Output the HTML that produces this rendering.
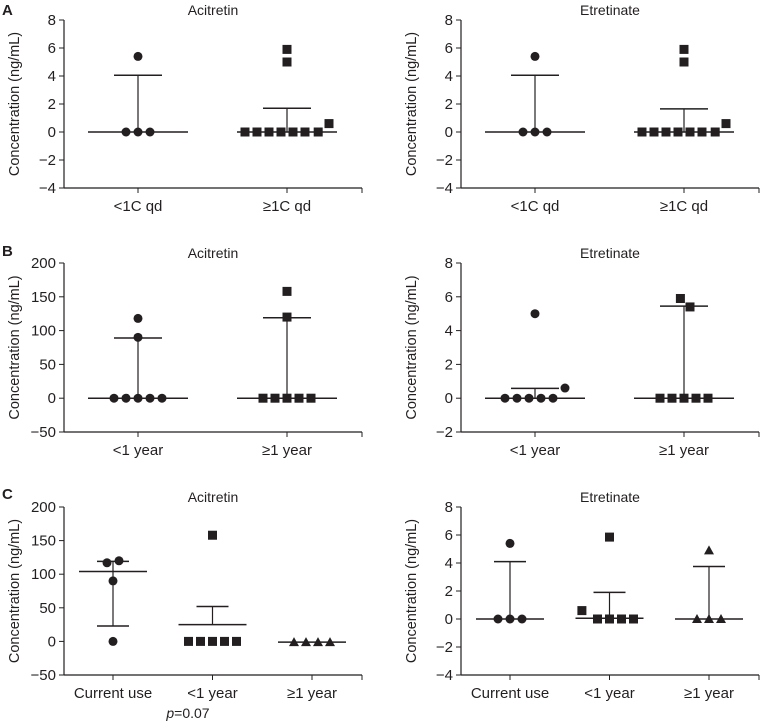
<!DOCTYPE html>
<html><head><meta charset="utf-8"><style>
body{margin:0;background:#fff;width:760px;height:723px;overflow:hidden}
svg text{font-family:"Liberation Sans",sans-serif;fill:#231f20}
</style></head><body>
<svg id="s" width="760" height="723" xmlns="http://www.w3.org/2000/svg">
<text x="2" y="15" font-size="15" font-weight="bold">A</text>
<text x="2" y="256" font-size="15" font-weight="bold">B</text>
<text x="2" y="499" font-size="15" font-weight="bold">C</text>
<text x="188" y="718" font-size="14" text-anchor="middle"><tspan font-style="italic">p</tspan>=0.07</text>
</svg>
<script>
// Panel A
const catsA=["<1C qd","≥1C qd"];
const aAciVals=[[0,0,0,5.4],[0,0,0,0,0,0,0,0.6,5.0,5.9]];
const aAciSlots=[[-1,0,1,0],[-3.5,-2.5,-1.5,-0.5,0.5,1.5,2.6,3.5,0,0]];
const aAciMed=[0,0],aAciLo=[0,0],aAciHi=[4.05,1.7];
const aEtrVals=[[0,0,0,5.4],[0,0,0,0,0,0,0,0.6,5.0,5.9]];
const aEtrMed=[0,0],aEtrLo=[0,0],aEtrHi=[4.05,1.65];
// Panel B
const catsB=["<1 year","≥1 year"];
const bAciVals=[[0,0,0,0,0,90,118],[0,0,0,0,0,120,158]];
const bAciSlots=[[-2,-1,0,1,2,0,0],[-2,-1,0,1,2,0,0]];
const bAciMed=[0,0],bAciLo=[0,0],bAciHi=[89,119];
const bEtrVals=[[0,0,0,0,0,5.0,0.6],[0,0,0,0,0,5.9,5.4]];
const bEtrSlots=[[-2.5,-1.5,-0.5,0.5,1.5,0,2.5],[-2,-1,0,1,2,-0.3,0.5]];
const bEtrMed=[0,0],bEtrLo=[0,0],bEtrHi=[0.58,5.45];
// Panel C
const catsC=["Current use","<1 year","≥1 year"];
const cAciVals=[[117,120,90,0],[0,0,0,0,0,158],[-1,-1,-1,-1]];
const cAciSlots=[[-0.5,0.5,0,0],[-2,-1,0,1,2,0],[-1.5,-0.5,0.5,1.5]];
const cAciMed=[104,25,-1],cAciLo=[23,25,-1],cAciHi=[119,52,-1];
const cEtrVals=[[0,0,0,5.4],[0.6,0,0,0,0,5.85],[0,0,0,4.9]];
const cEtrSlots=[[-1,0,1,0],[-2.3,-1,0,1,2,0],[-1,0,1,0]];
const cEtrMed=[0,0.05,0],cEtrLo=[0,0.05,0],cEtrHi=[4.1,1.9,3.75];
const shapes2=["circle","square"],shapes3=["circle","square","triangle"];

const svg=document.getElementById('s');
const NS="http://www.w3.org/2000/svg";
function mk(t,a){const e=document.createElementNS(NS,t);for(const k in a)e.setAttribute(k,a[k]);svg.appendChild(e);return e;}
function panel(o){
 const ys=v=>o.yb-(v-o.ymin)/(o.ymax-o.ymin)*(o.yb-o.yt);
 const n=o.cats.length;
 const xs=i=>n===2?o.ax+74+i*149:o.ax+49+i*99.5;
 const L=mk('line',{x1:o.ax,y1:o.yt,x2:o.ax,y2:o.yb,stroke:'#231f20','stroke-width':1.2});
 
 
 const X=mk('line',{x1:o.ax,y1:o.yb,x2:o.ax+298,y2:o.yb,stroke:'#231f20','stroke-width':1.2});
 
 
 mk('line',{x1:o.ax+298,y1:o.yb,x2:o.ax+298,y2:o.yb+5,stroke:'#231f20'});
 for(let v=o.ymin;v<=o.ymax+1e-9;v+=o.step){
  const y=ys(v);
  mk('line',{x1:o.ax-5,y1:y,x2:o.ax,y2:y,stroke:'#231f20'});
  const t=mk('text',{x:o.ax-8,y:y+5,'font-size':15,'text-anchor':'end'});
  t.textContent=v<0?'−'+(-v):String(v);
  
  
 }
 o.cats.forEach((c,i)=>{
  const x=xs(i);
  mk('line',{x1:x,y1:o.yb,x2:x,y2:o.yb+5,stroke:'#231f20'});
  const t=mk('text',{x:x,y:o.yb+23,'font-size':15,'text-anchor':'middle'});
  t.textContent=c;
  
  
 });
 const ti=mk('text',{x:o.ax+149,y:o.yt-5,'font-size':14,'text-anchor':'middle'});
 ti.textContent=o.title;
 
 
 const yl=mk('text',{x:0,y:0,'font-size':14.5,'text-anchor':'middle',transform:`translate(${o.ax-45},${(o.yt+o.yb)/2}) rotate(-90)`});
 yl.textContent='Concentration (ng/mL)';
 
 
 const mh=n===2?50:34, ch=n===2?24:16;
 o.cats.forEach((c,i)=>{
  const x=xs(i);
  const m=mk('line',{x1:x-mh,y1:ys(o.med[i]),x2:x+mh,y2:ys(o.med[i]),stroke:'#231f20','stroke-width':1.5});
  
  
  mk('line',{x1:x,y1:ys(o.lo[i]),x2:x,y2:ys(o.hi[i]),stroke:'#231f20','stroke-width':1.2});
  if(o.hi[i]!==o.med[i]){const c1=mk('line',{x1:x-ch,y1:ys(o.hi[i]),x2:x+ch,y2:ys(o.hi[i]),stroke:'#231f20','stroke-width':1.5});
   
   }
  if(o.lo[i]!==o.med[i]){const c2=mk('line',{x1:x-ch,y1:ys(o.lo[i]),x2:x+ch,y2:ys(o.lo[i]),stroke:'#231f20','stroke-width':1.5});
   
   }
  o.vals[i].forEach((v,j)=>{
   const px=x+o.slots[i][j]*12, py=ys(v);
   let e;
   const sh=o.shapes[i];
   if(sh==='circle')e=mk('circle',{cx:px,cy:py,r:4.5,fill:'#231f20'});
   else if(sh==='square')e=mk('rect',{x:px-4.5,y:py-4.5,width:9,height:9,fill:'#231f20'});
   else e=mk('polygon',{points:`${px},${py-5} ${px+5},${py+4} ${px-5},${py+4}`,fill:'#231f20'});
   
   
  });
 });
}
panel({ax:64,yt:20,yb:188,ymin:-4,ymax:8,step:2,title:'Acitretin',cats:catsA,vals:aAciVals,slots:aAciSlots,med:aAciMed,lo:aAciLo,hi:aAciHi,shapes:shapes2});
panel({ax:461,yt:20,yb:188,ymin:-4,ymax:8,step:2,title:'Etretinate',cats:catsA,vals:aEtrVals,slots:aAciSlots,med:aEtrMed,lo:aEtrLo,hi:aEtrHi,shapes:shapes2});
panel({ax:64,yt:263,yb:432,ymin:-50,ymax:200,step:50,title:'Acitretin',cats:catsB,vals:bAciVals,slots:bAciSlots,med:bAciMed,lo:bAciLo,hi:bAciHi,shapes:shapes2});
panel({ax:461,yt:263,yb:432,ymin:-2,ymax:8,step:2,title:'Etretinate',cats:catsB,vals:bEtrVals,slots:bEtrSlots,med:bEtrMed,lo:bEtrLo,hi:bEtrHi,shapes:shapes2});
panel({ax:64,yt:507,yb:675,ymin:-50,ymax:200,step:50,title:'Acitretin',cats:catsC,vals:cAciVals,slots:cAciSlots,med:cAciMed,lo:cAciLo,hi:cAciHi,shapes:shapes3});
panel({ax:461,yt:507,yb:675,ymin:-4,ymax:8,step:2,title:'Etretinate',cats:catsC,vals:cEtrVals,slots:cEtrSlots,med:cEtrMed,lo:cEtrLo,hi:cEtrHi,shapes:shapes3});
</script>
</body></html>
